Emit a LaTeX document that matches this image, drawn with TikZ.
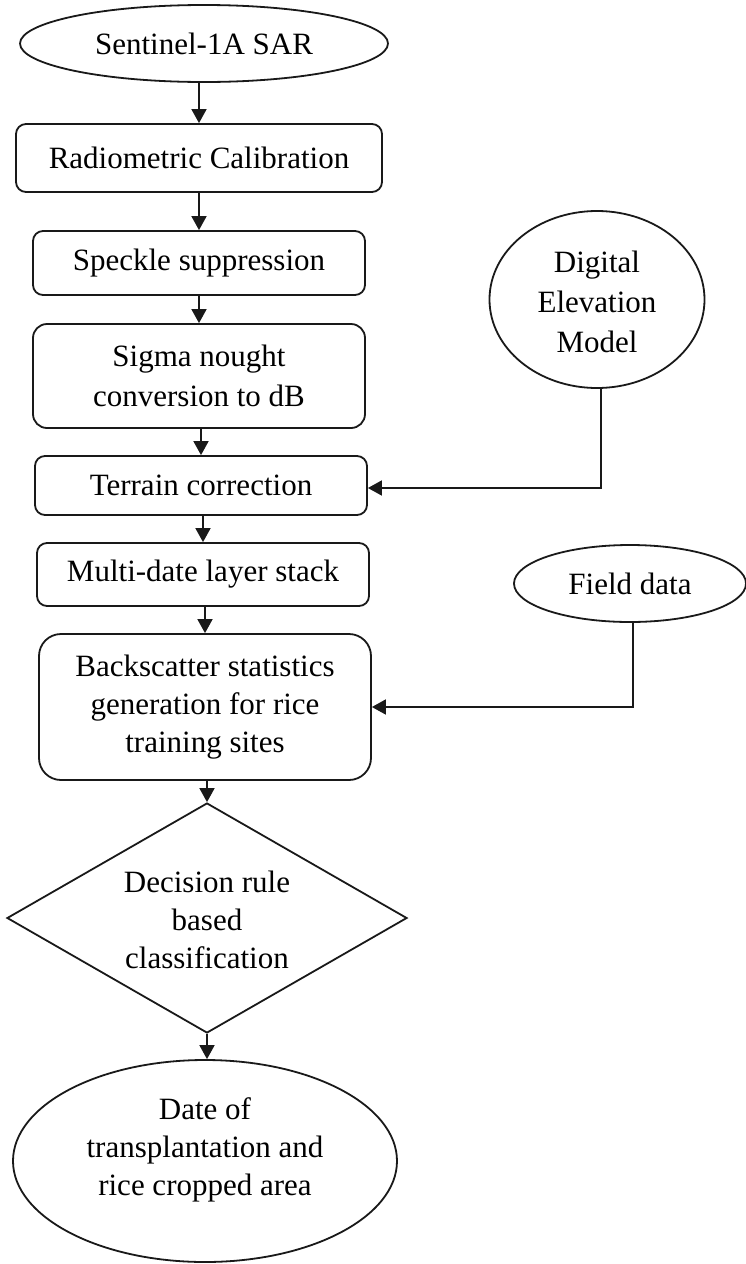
\documentclass[tikz,border=0pt]{standalone}
\usepackage{fontspec}
\setmainfont{Liberation Serif}
\usetikzlibrary{shapes.geometric,arrows.meta}
\newcommand\flowfont{\rmfamily\fontsize{31}{40}\selectfont}
\newcommand\tightfont{\rmfamily\fontsize{31}{38}\selectfont}
\begin{document}
\begin{tikzpicture}[x=1pt,y=-1pt,
  base/.style={draw=black!90, line width=1.8pt, inner sep=0pt, font=\flowfont},
  stepbox/.style={base, rectangle, rounded corners=#1, align=center},
  stepbox/.default=10pt,
  oval/.style={base, ellipse},
  rhomb/.style={base, diamond},
  txt/.style={align=center, inner sep=0pt, font=\flowfont},
  tighttxt/.style={align=center, inner sep=0pt, font=\tightfont},
  arr/.style={draw=black!90, line width=1.8pt, -{Triangle[length=14pt,width=15pt]}}]
\useasboundingbox (0,0) rectangle (746,1264);

% main processing chain
\node[oval, minimum width=368, minimum height=77,
      label={[txt]center:Sentinel-1A SAR}] (s1) at (204,43.5) {};
\node[stepbox, minimum width=366, minimum height=68] (rad) at (199,158) {Radiometric Calibration};
\node[stepbox, minimum width=332, minimum height=64] (spk) at (199,263) {Speckle suppression};
\node[stepbox=14pt, minimum width=332, minimum height=104] (sig) at (199,376) {Sigma nought\\conversion to dB};
\node[stepbox, minimum width=332, minimum height=59] (ter) at (201,485.5) {Terrain correction};
\node[stepbox, minimum width=332, minimum height=63] (mul) at (203,574.5) {Multi-date layer stack};
\node[stepbox=22pt, minimum width=332, minimum height=146, font=\tightfont] (bak) at (205,707)
  {Backscatter statistics\\generation for rice\\training sites};
\node[rhomb, minimum width=400, minimum height=230,
      label={[tighttxt, yshift=-2pt]center:{Decision rule\\based\\classification}}] (dia) at (207,918) {};
\node[oval, minimum width=384, minimum height=202,
      label={[tighttxt, yshift=11pt]center:{Date of\\transplantation and\\rice cropped area}}] (out) at (205,1161) {};

% ancillary inputs
\node[oval, minimum width=215, minimum height=177,
      label={[txt, yshift=-2pt]center:{Digital\\Elevation\\Model}}] (dem) at (597,299.5) {};
\node[oval, minimum width=232, minimum height=77,
      label={[txt]center:Field data}] (fld) at (630,583.5) {};

% connectors
\draw[arr] (rad.north |- s1.south) -- (rad.north);
\draw[arr] (rad.south -| spk.north) -- (spk.north);
\draw[arr] (spk.south -| sig.north) -- (sig.north);
\draw[arr] (sig.south -| ter.north) -- (ter.north);
\draw[arr] (ter.south -| mul.north) -- (mul.north);
\draw[arr] (mul.south -| bak.north) -- (bak.north);
\draw[arr] (bak.south -| dia.north) -- (dia.north);
\draw[arr] (dia.south) -- (dia.south |- out.north);
\draw[arr] ([xshift=4pt]dem.south) |- ([yshift=-2.5pt]ter.east);
\draw[arr] ([xshift=3pt]fld.south) |- (bak.east);
\end{tikzpicture}
\end{document}
